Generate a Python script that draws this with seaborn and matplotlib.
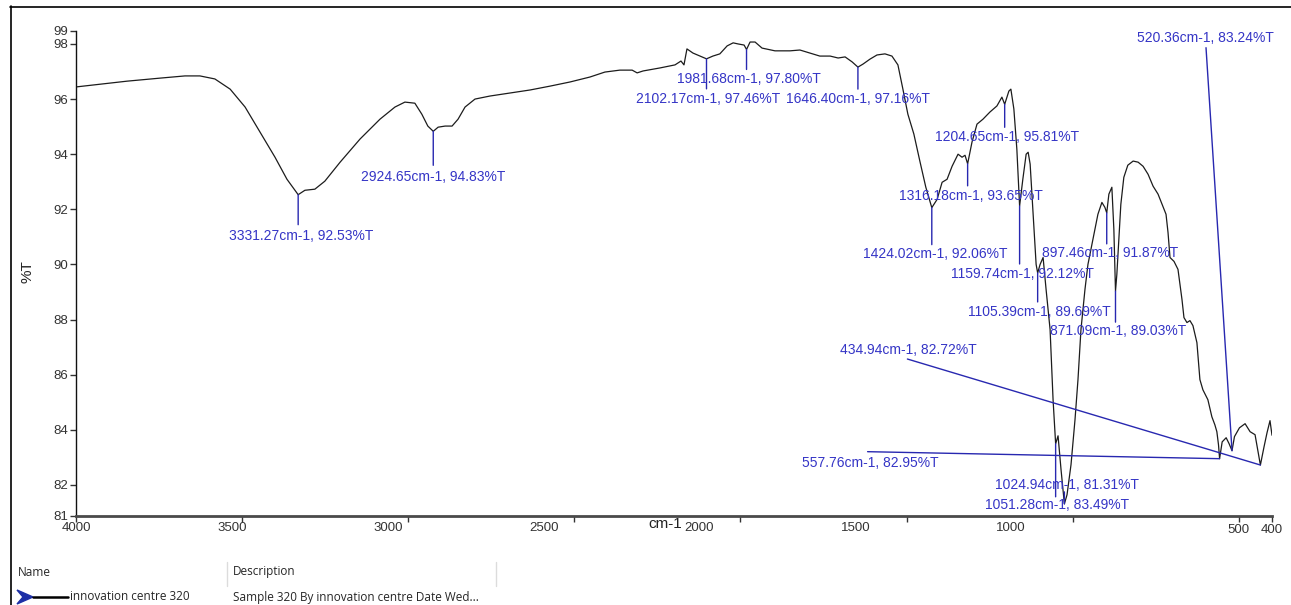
import numpy as np
import pandas as pd
import matplotlib
matplotlib.use("Agg")
import matplotlib.pyplot as plt
import seaborn as sns
from matplotlib.patches import Polygon
from matplotlib.lines import Line2D

# FT-IR spectrum: wavenumber (cm-1) and transmittance (%T)
wavenumber = [
    4000, 3846, 3747, 3672, 3627, 3582, 3536, 3491, 3446, 3401, 3365, 3331.27,
    3311, 3281, 3251, 3205, 3145, 3085, 3040, 3010, 2980, 2959, 2941, 2924.65,
    2910, 2889, 2868, 2850, 2829, 2799, 2754, 2694, 2633, 2573, 2513, 2453,
    2408, 2363, 2326, 2311, 2293, 2242, 2197, 2179, 2170, 2161, 2143, 2122,
    2102.17, 2083, 2062, 2040, 2022, 2007, 1989, 1981.68, 1971, 1956, 1935,
    1896, 1851, 1821, 1791, 1761, 1730, 1706, 1685, 1664, 1646.40, 1631, 1610,
    1589, 1565, 1544, 1526, 1511, 1496, 1478, 1460, 1442, 1424.02, 1408, 1393,
    1378, 1363, 1345, 1333, 1324, 1316.18, 1303, 1288, 1270, 1249, 1228, 1213,
    1204.65, 1192, 1186, 1177, 1168, 1159.74, 1150, 1140, 1134, 1128, 1119,
    1110, 1105.39, 1098, 1089, 1080, 1068, 1059, 1051.28, 1044, 1035, 1024.94,
    1017, 1005, 993, 984, 975, 963, 954, 945, 936, 924, 912, 903, 897.46, 891,
    882, 876, 871.09, 867, 861, 855, 846, 834, 818, 803, 788, 773, 758, 743,
    731, 719, 713, 707, 695, 683, 671, 665, 656, 647, 638, 626, 617, 608, 593,
    581, 572, 566, 561, 557.76, 550, 538, 529, 520.36, 513, 498, 481, 466, 451,
    442, 434.94, 424, 415, 406, 400,
]
transmittance = [
    96.44, 96.65, 96.76, 96.84, 96.84, 96.73, 96.36, 95.71, 94.80, 93.89, 93.09, 92.53,
    92.69, 92.73, 93.02, 93.71, 94.55, 95.27, 95.71, 95.89, 95.85, 95.45, 95.02, 94.83,
    94.98, 95.02, 95.02, 95.27, 95.71, 96.00, 96.11, 96.22, 96.33, 96.47, 96.62, 96.80,
    96.98, 97.05, 97.05, 96.95, 97.02, 97.13, 97.24, 97.38, 97.24, 97.82, 97.67, 97.56,
    97.46, 97.56, 97.64, 97.93, 98.04, 98.00, 97.96, 97.80, 98.07, 98.07, 97.85,
    97.75, 97.75, 97.78, 97.67, 97.56, 97.56, 97.49, 97.53, 97.35, 97.16, 97.27, 97.45,
    97.60, 97.64, 97.56, 97.24, 96.36, 95.45, 94.73, 93.75, 92.80, 92.06, 92.36, 92.98,
    93.09, 93.56, 94.00, 93.89, 93.96, 93.65, 94.44, 95.09, 95.27, 95.53, 95.75, 96.07,
    95.81, 96.29, 96.36, 95.64, 94.18, 92.12, 93.09, 94.00, 94.07, 93.64, 91.82,
    90.00, 89.69, 90.00, 90.25, 89.09, 87.64, 85.09, 83.49, 83.78, 82.55, 81.31,
    81.64, 82.73, 84.36, 85.82, 87.64, 89.09, 90.00, 90.55, 91.09, 91.82, 92.25, 92.07, 91.87, 92.55,
    92.80, 91.27, 89.03, 89.64, 90.91, 92.18, 93.16, 93.60, 93.75, 93.71, 93.56, 93.27, 92.84, 92.55,
    92.18, 91.82, 91.16, 90.25, 90.11, 89.82, 88.73, 88.07, 87.89, 87.96, 87.78, 87.16, 85.82, 85.45, 85.09,
    84.47, 84.18, 83.93, 83.45, 82.95, 83.56, 83.71, 83.49, 83.24, 83.75, 84.07, 84.22, 83.93, 83.82,
    83.20, 82.72, 83.38, 83.89, 84.33, 83.80,
]

# Labelled peaks
peak_wavenumber = [3331.27, 2924.65, 2102.17, 1981.68, 1646.40, 1424.02, 1316.18,
                   1204.65, 1159.74, 1105.39, 1051.28, 1024.94, 897.46, 871.09,
                   557.76, 520.36, 434.94]
peak_transmittance = [92.53, 94.83, 97.46, 97.80, 97.16, 92.06, 93.65,
                      95.81, 92.12, 89.69, 83.49, 81.31, 91.87, 89.03,
                      82.95, 83.24, 82.72]

# Axis ticks
xtick_values = [4000, 3500, 3000, 2500, 2000, 1500, 1000, 500, 400]
ytick_values = [82, 84, 86, 88, 90, 92, 94, 96, 98]
x_limits = (4000, 400)
y_limits = (80.87, 98.47)

sample_name = "innovation centre 320"
sample_description = "Sample 320 By innovation centre Date Wed..."

# ---------------------------------------------------------------- style
sns.set_style("white")
plt.rcParams["font.family"] = ["Liberation Sans", "DejaVu Sans"]

W, H = 1291, 605
fig = plt.figure(figsize=(W / 100, H / 100), dpi=100)
ax = fig.add_axes([76 / W, (H - 516) / H, 1196 / W, 485 / H])

# ---------------------------------------------------------------- spectrum
df = pd.DataFrame({"wavenumber": wavenumber, "transmittance": transmittance})
sns.lineplot(data=df, x="wavenumber", y="transmittance", ax=ax,
             color="#1c1c1c", linewidth=0.9, estimator=None)

ax.set_xlim(*x_limits)
ax.set_ylim(*y_limits)

# ---------------------------------------------------------------- axes
for side in ("top", "right"):
    ax.spines[side].set_visible(False)
ax.spines["left"].set_color("#111111")
ax.spines["left"].set_linewidth(1.0)
ax.spines["bottom"].set_color("#4a4a4a")
ax.spines["bottom"].set_linewidth(2.0)

yticks = [y_limits[0]] + ytick_values + [y_limits[1]]
ylabels = [str(int(np.ceil(v))) for v in yticks]
ax.set_yticks(yticks)
ax.set_yticklabels(ylabels)

ax.set_xticks(xtick_values)
ax.set_xticklabels(["" if v >= 1000 else str(v) for v in xtick_values])

TICK_SIZE = 9.5
ax.tick_params(axis="both", direction="out", length=4, width=1,
               color="#333333", labelcolor="#333333", labelsize=TICK_SIZE,
               bottom=True, left=True, pad=1.5)

# labels of the upper wavenumber range are spread on a slightly tighter grid
label_scale = 0.9383
for v in xtick_values:
    if v >= 1000:
        ax.annotate(str(v), xy=(4000 - (4000 - v) * label_scale, 0),
                    xycoords=("data", "axes fraction"),
                    xytext=(0, -6), textcoords="offset pixels",
                    ha="center", va="top", fontsize=TICK_SIZE, color="#333333")

ax.set_xlabel("cm-1", fontsize=11, color="#222222", va="center")
ax.xaxis.set_label_coords((665 - 76) / 1196, -(524 - 516) / 485)
ax.set_ylabel("%T", fontsize=11, color="#222222", va="center")
ax.yaxis.set_label_coords((28 - 76) / 1196, (516 - 272) / 485)

# ---------------------------------------------------------------- peak labels
# (line end offset, text centre offset) in pixels, downward positive
peak_layout = [
    ((0, 30), (3, 41)), ((0, 34), (0, 46)), ((0, 30), (2, 40)),
    ((0, 20), (2, 30)), ((0, 22), (0, 32)), ((0, 37), (3, 46)),
    ((0, 22), (3, 32)), ((0, 23), (2, 33)), ((0, 58), (3, 68)),
    ((0, 29), (2, 39)), ((0, 53), (1, 61)), ((0, -12), (3, -19)),
    ((0, 31), (3, 40)), ((0, 31), (3, 40)), ((-352, -7), (-349, 4)),
    ((-26, -403), (-27, -413)), ((-353, -106), (-352, -115)),
]
LABEL_BLUE = "#3535c6"
LINE_BLUE = "#2828b0"
for wn, t, (lend, tpos) in zip(peak_wavenumber, peak_transmittance, peak_layout):
    ax.annotate("", xy=(wn, t), xytext=(lend[0], -lend[1]),
                textcoords="offset pixels",
                arrowprops=dict(arrowstyle="-", color=LINE_BLUE, lw=1.0,
                                shrinkA=0, shrinkB=0))
    ax.annotate(f"{wn:.2f}cm-1, {t:.2f}%T", xy=(wn, t),
                xytext=(tpos[0], -tpos[1]), textcoords="offset pixels",
                ha="center", va="center", fontsize=10, color=LABEL_BLUE)

# ---------------------------------------------------------------- frame and sample list
def fx(px):
    return px / W


def fy(py):
    return 1 - py / H


fig.add_artist(Line2D([fx(10), 1.0], [fy(6.5), fy(6.5)], color="black", lw=1.2))
fig.add_artist(Line2D([fx(10.5), fx(10.5)], [0.0, fy(6)], color="black", lw=1.2))

UI = ["Open Sans", "DejaVu Sans"]
fig.text(fx(18), fy(572), "Name", ha="left", va="center", fontsize=8.5, family=UI)
fig.text(fx(233), fy(572), "Description", ha="left", va="center", fontsize=8.5, family=UI)
for xs in (227, 496):
    fig.add_artist(Line2D([fx(xs), fx(xs)], [fy(562), fy(586)], color="#dcdcdc", lw=1))

fig.add_artist(Polygon([(fx(17), fy(590)), (fx(33), fy(597)), (fx(17), fy(604)),
                        (fx(23), fy(597))], closed=True, color="#1d2fa6"))
fig.add_artist(Line2D([fx(33), fx(68)], [fy(597), fy(597)], color="black", lw=1.8))
fig.text(fx(70), fy(597), sample_name, ha="left", va="center", fontsize=8.5, family=UI)
fig.text(fx(233), fy(597), sample_description, ha="left", va="center", fontsize=8.5, family=UI)

fig.savefig("out.png", dpi=100)
